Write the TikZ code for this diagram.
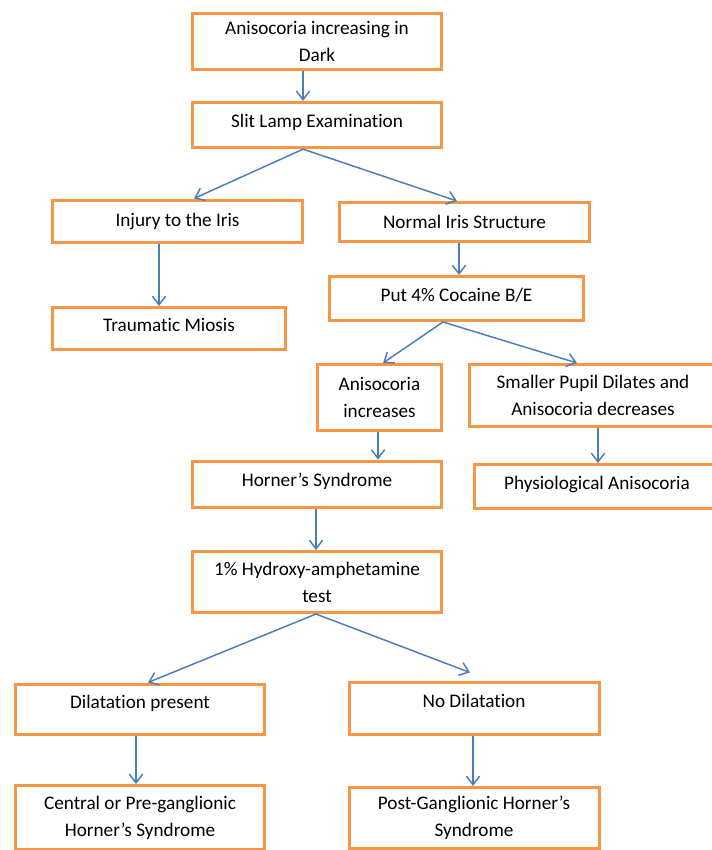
\documentclass[tikz,border=0pt]{standalone}
\usepackage{fontspec}
\setmainfont{Carlito}[Ligatures=NoCommon]
\usetikzlibrary{arrows.meta}
\definecolor{boxorange}{RGB}{247,150,70}
\definecolor{arrowblue}{RGB}{74,126,187}

\begin{document}
\begin{tikzpicture}[x=0.75pt, y=-0.75pt,
  box/.style={draw=boxorange, line width=2.25pt, minimum width=187pt, minimum height=34pt,
              align=center, inner sep=2pt, font=\fontsize{14.4}{20.3}\selectfont},
  arr/.style={-{Straight Barb[length=6.5pt,width=10pt]}, draw=arrowblue, line width=1.1pt}
]
  \useasboundingbox (0,0) rectangle (712,850);

  \node[box, minimum height=42pt]  (dark)    at (317,41.5)  {Anisocoria increasing in\\Dark};
  \node[box, text depth=6pt]       (slit)    at (317,125)   {Slit Lamp Examination};
  \node[box, minimum width=187.5pt, minimum height=31.5pt] (injury) at (177.5,221) {Injury to the Iris};
  \node[box, minimum width=187.5pt, minimum height=29.25pt] (normal) at (464.5,222) {Normal Iris Structure};
  \node[box, minimum width=174.75pt, minimum height=31.5pt, text depth=5pt] (miosis) at (169,328.5) {Traumatic Miosis};
  \node[box, minimum width=190.5pt, minimum height=33pt, text depth=5pt] (cocaine) at (456.5,298.5) {Put 4\% Cocaine B/E};
  \node[box, minimum width=93pt, minimum height=49.5pt] (incr) at (379.5,397.5) {Anisocoria\\increases};
  \node[box, minimum width=185.25pt, minimum height=46.5pt] (decr) at (593,395.5) {Smaller Pupil Dilates and\\Anisocoria decreases};
  \node[box, minimum height=34.5pt, text depth=6pt] (horner) at (317,484) {Horner’s Syndrome};
  \node[box, minimum width=184pt, minimum height=33pt, text depth=6pt] (physio) at (597,486.5) {Physiological Anisocoria};
  \node[box, minimum height=45.75pt] (hydroxy) at (317,582) {1\% Hydroxy-amphetamine\\test};
  \node[box, minimum height=37.5pt, text depth=10.5pt] (dilat) at (140,709) {Dilatation present};
  \node[box, minimum width=187.5pt, minimum height=39pt, text depth=10.5pt] (nodilat) at (474,708) {No Dilatation};
  \node[box, minimum height=48pt]   (central) at (140,817.5) {Central or Pre-ganglionic\\Horner’s Syndrome};
  \node[box, minimum width=187.5pt, minimum height=45.75pt] (post) at (474,818) {Post-Ganglionic Horner’s\\Syndrome};

  \draw[arr] (dark.south -| 303,0)    -- (slit.north -| 303,0);
  \draw[arr] (slit.south -| 303,0)    -- (injury.north -| 194,0);
  \draw[arr] (slit.south -| 303,0)    -- (normal.north -| 457,0);
  \draw[arr] (injury.south -| 159,0)  -- (miosis.north -| 159,0);
  \draw[arr] (normal.south -| 459,0)  -- (cocaine.north -| 459,0);
  \draw[arr] (cocaine.south -| 443,0) -- (incr.north -| 383,0);
  \draw[arr] (cocaine.south -| 443,0) -- (decr.north -| 577,0);
  \draw[arr] (incr.south -| 378,0)    -- (horner.north -| 378,0);
  \draw[arr] (decr.south -| 598,0)    -- (physio.north -| 598,0);
  \draw[arr] (horner.south -| 316,0)  -- (hydroxy.north -| 316,0);
  \draw[arr] (hydroxy.south -| 316,0) -- (dilat.north -| 148,0);
  \draw[arr] (hydroxy.south -| 316,0) -- ([yshift=6pt]nodilat.north -| 470,0);
  \draw[arr] (dilat.south -| 136,0)   -- (central.north -| 136,0);
  \draw[arr] (nodilat.south -| 473,0) -- (post.north -| 473,0);
\end{tikzpicture}
\end{document}
